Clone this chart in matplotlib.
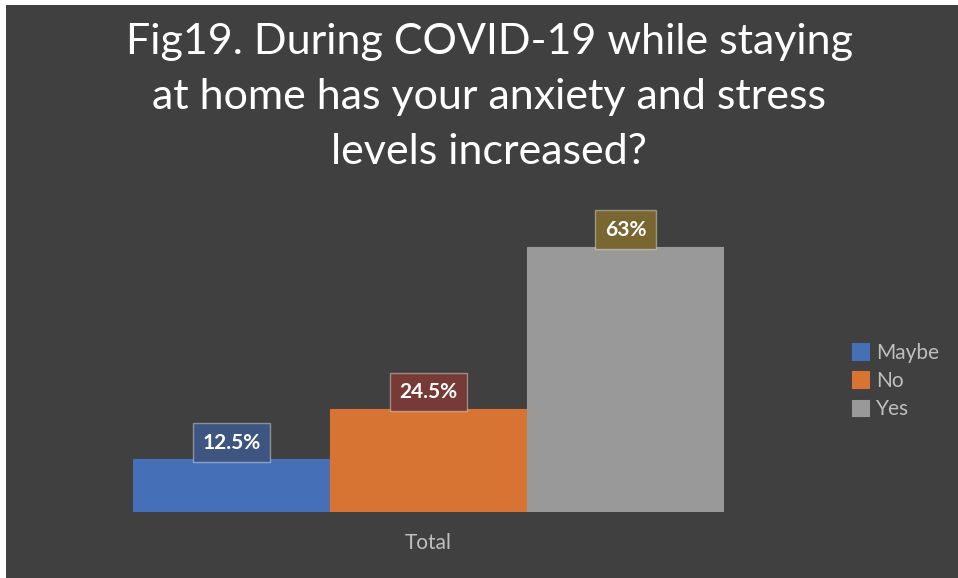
import matplotlib.pyplot as plt
from matplotlib.patches import Rectangle

categories = ["Maybe", "No", "Yes"]
values = [12.5, 24.5, 63]
labels = ["12.5%", "24.5%", "63%"]
x_label = "Total"
title = "Fig19. During COVID-19 while staying\nat home has your anxiety and stress\nlevels increased?"

bar_colors = ["#4570b8", "#d87433", "#999999"]
box_colors = ["#3d5580", "#773a36", "#7a6630"]
bg = "#404040"

plt.rcParams['font.family'] = ['Lato', 'DejaVu Sans']

W, H = 958, 578
fig = plt.figure(figsize=(W / 100, H / 100), dpi=100)
fig.patch.set_facecolor("white")
fig.patches.append(Rectangle((6 / W, 0), 1 - 6 / W, 1 - 5 / H, transform=fig.transFigure,
                             facecolor=bg, edgecolor="none", zorder=-5))

# axes spans bar area: x 133..724, baseline y 512
ax = fig.add_axes([133 / W, (H - 512) / H, (724 - 133) / W, (512 - 217) / H])
ax.set_facecolor("none")
for i, (v, c) in enumerate(zip(values, bar_colors)):
    ax.bar(i, v, width=1.0, color=c, edgecolor=c, linewidth=0.8, label=categories[i], zorder=2)
    ax.annotate(labels[i], (i, v), xytext=(0, 12), textcoords="offset points",
                ha="center", va="center", color="white", fontsize=15, fontweight="bold",
                bbox=dict(boxstyle="square,pad=0.45", facecolor=box_colors[i],
                          edgecolor=(1, 1, 1, 0.4), linewidth=1), zorder=3)
ax.set_xlim(-0.5, 2.5)
ax.set_ylim(0, 70)
ax.set_xticks([])
ax.set_yticks([])
for s in ax.spines.values():
    s.set_visible(False)

fig.text(428 / W, 1 - 543 / H, x_label, ha="center", va="center", color="#bfbfbf", fontsize=15)

fig.text(489 / W, 1 - 97 / H, title, ha="center", va="center", color="white",
         fontsize=31, linespacing=1.55)

leg = ax.legend(loc="center left", bbox_to_anchor=(833 / W, 1 - 381 / H),
                bbox_transform=fig.transFigure, frameon=False, fontsize=15,
                handlelength=0.85, handleheight=0.85, handletextpad=0.3, labelspacing=0.4)
for t in leg.get_texts():
    t.set_color("#bfbfbf")

fig.savefig("out.png", dpi=100, facecolor=fig.get_facecolor())
